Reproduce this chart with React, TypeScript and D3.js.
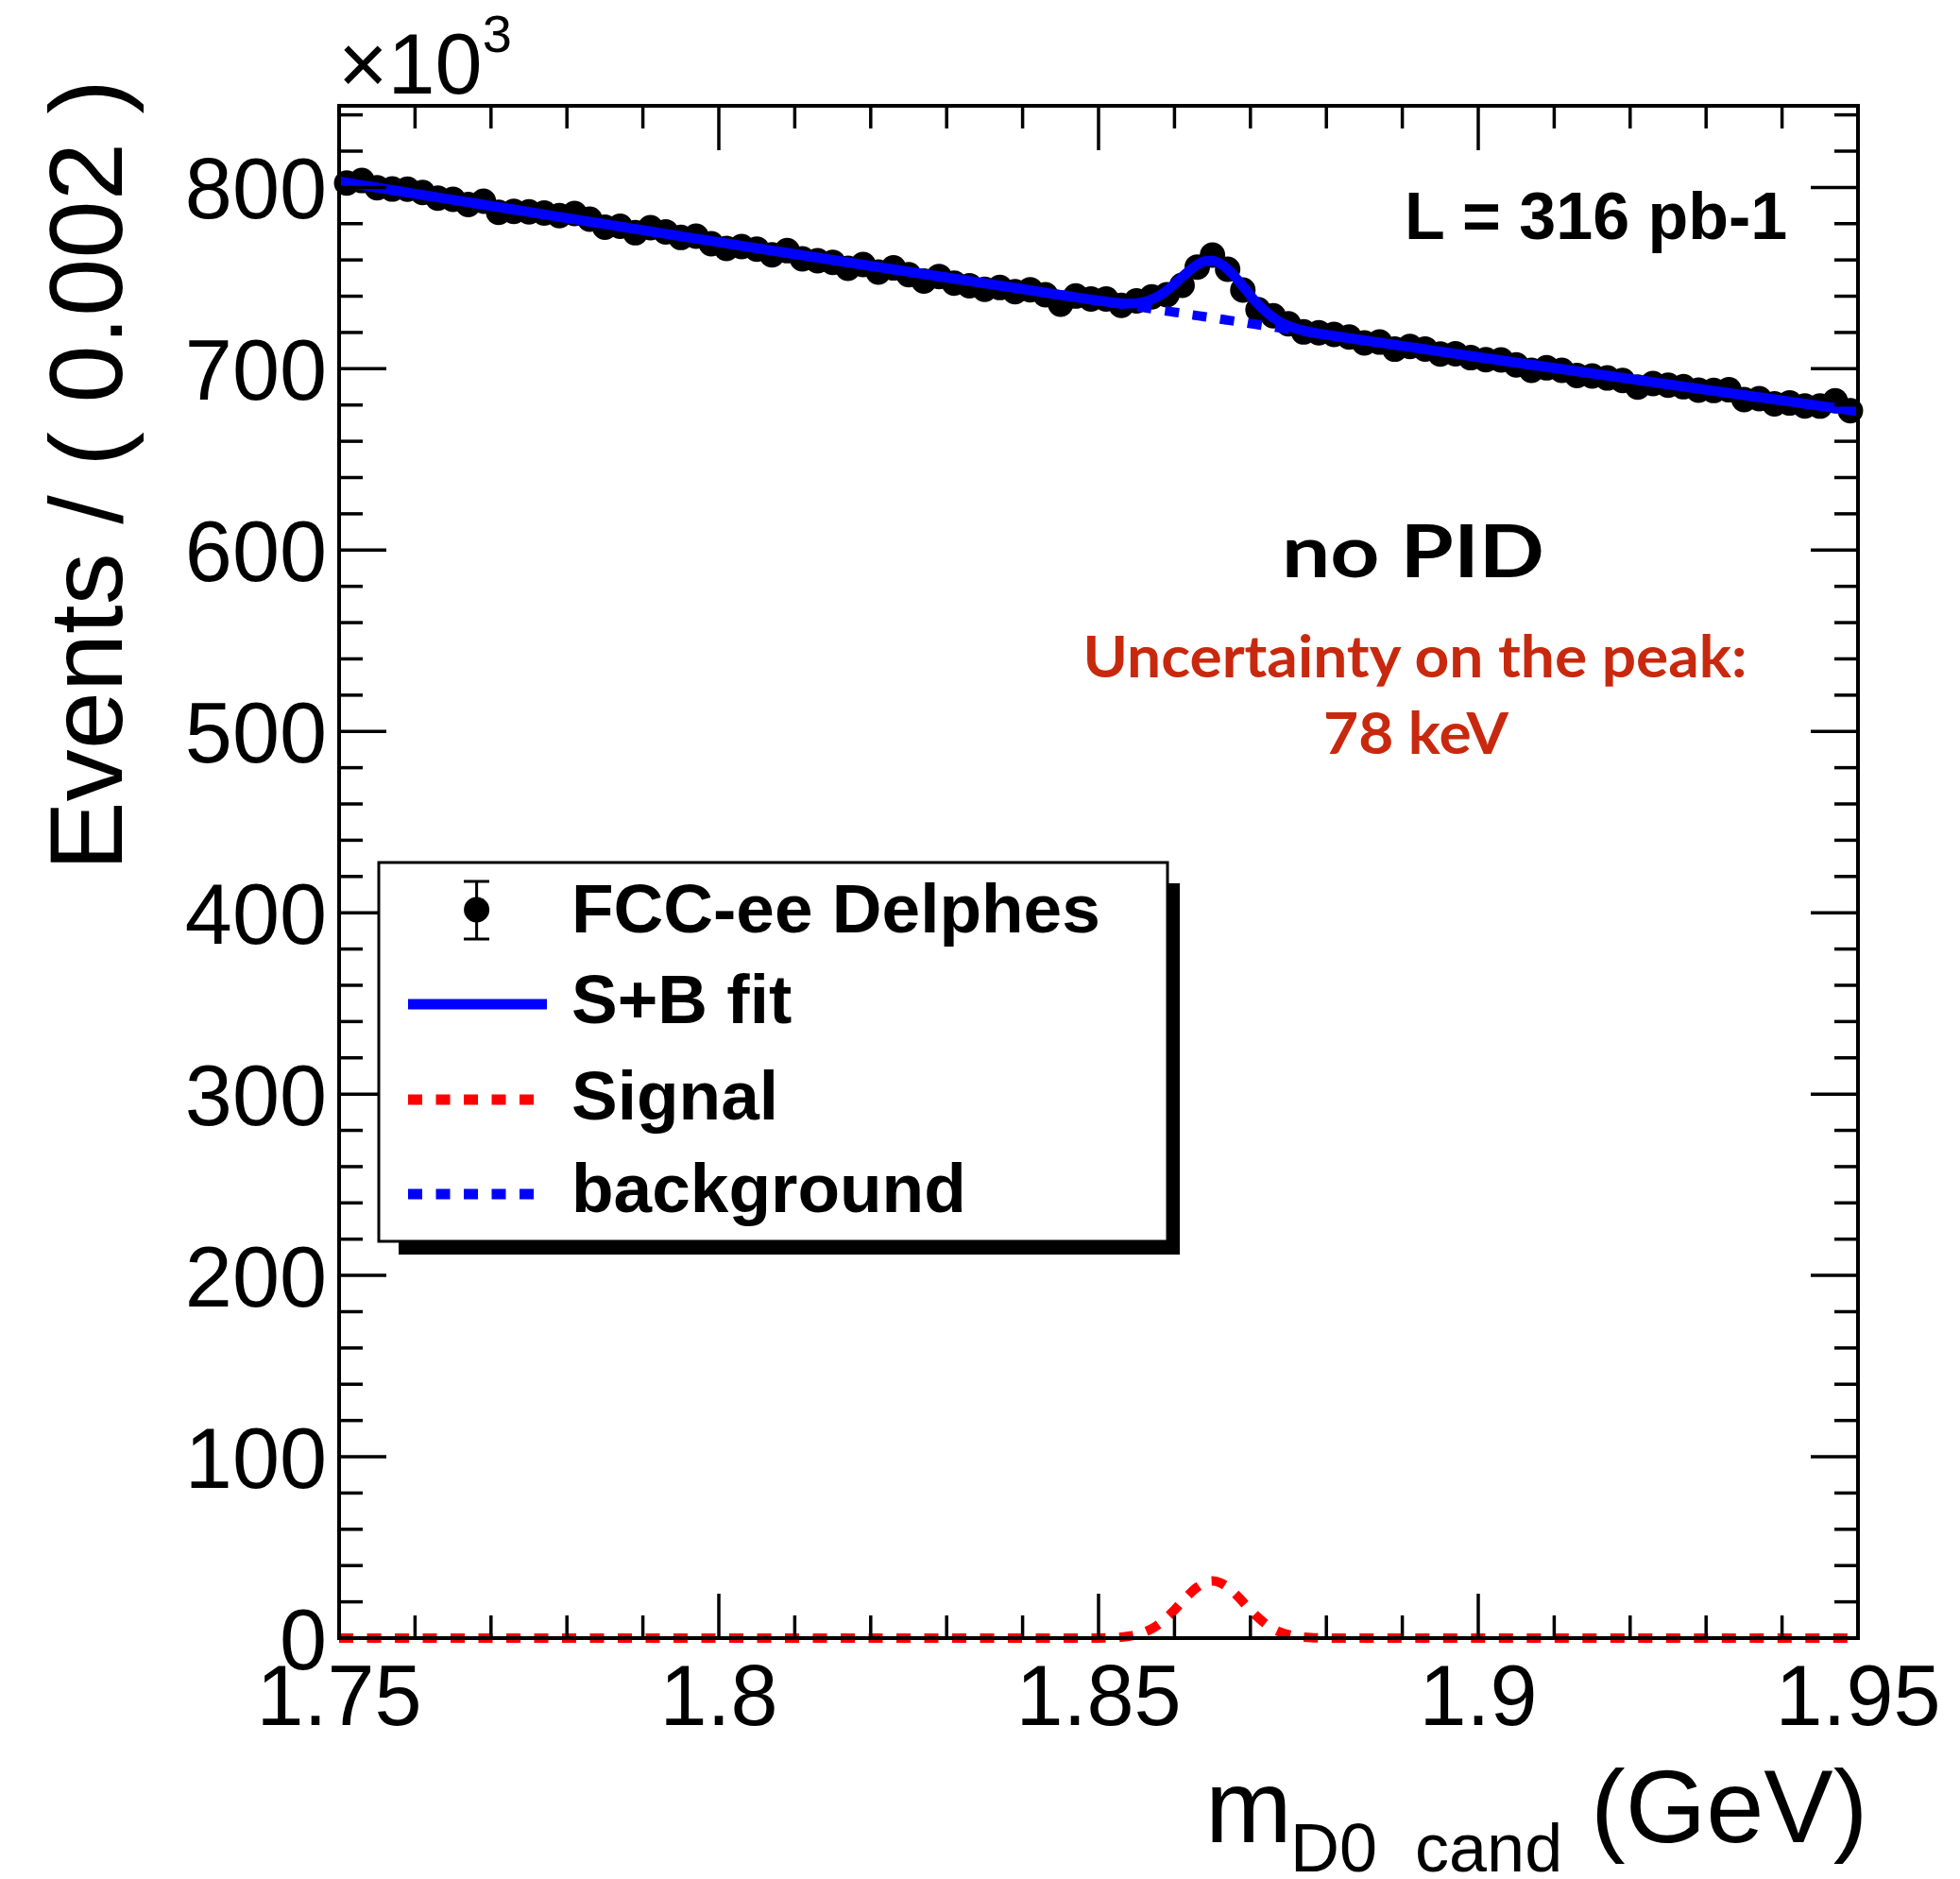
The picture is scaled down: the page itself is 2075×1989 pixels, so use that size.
import React from 'react';
import * as d3 from 'd3';

const W = 2075;
const H = 1989;

// axis ranges
const xDomain: [number, number] = [1.75, 1.95];
const yDomain: [number, number] = [0, 845]; // in units of 10^3 events
const binLow = 1.75;
const binWidth = 0.002;

// data: events per bin (x10^3), 100 bins of 0.002 GeV from 1.75
const counts = [
  802.4, 803.8, 799.8, 799.1, 799.0, 797.2, 794.1, 793.4, 790.6, 792.4,
  786.3, 786.8, 786.5, 785.9, 784.5, 785.6, 782.5, 778.1, 778.6, 775.0,
  777.8, 775.5, 772.4, 773.1, 768.9, 766.3, 767.4, 766.0, 762.8, 765.1,
  760.6, 759.6, 758.7, 755.4, 757.5, 753.3, 755.6, 751.9, 748.4, 750.9,
  747.2, 745.8, 743.8, 744.8, 742.5, 743.6, 740.8, 735.6, 740.1, 738.5,
  738.5, 735.0, 737.4, 739.6, 740.8, 746.0, 756.1, 762.7, 754.9, 743.4,
  732.6, 729.2, 724.8, 720.3, 719.9, 718.9, 717.5, 714.2, 714.7, 710.8,
  712.3, 710.9, 708.1, 708.3, 706.1, 705.0, 704.9, 702.1, 699.1, 700.5,
  699.1, 696.3, 696.0, 694.9, 693.5, 689.9, 691.8, 690.9, 690.1, 688.2,
  688.0, 688.4, 683.0, 683.5, 680.7, 681.1, 679.5, 679.4, 682.3, 676.9,
];

// fit curves sampled along x
const curveX = [
  1.75, 1.76, 1.77, 1.78, 1.79, 1.80, 1.81, 1.82, 1.83, 1.84, 1.845,
  1.850, 1.851, 1.852, 1.853, 1.854, 1.855, 1.856, 1.857, 1.858, 1.859,
  1.860, 1.861, 1.862, 1.863, 1.864, 1.865, 1.866, 1.867, 1.868, 1.869,
  1.870, 1.871, 1.872, 1.873, 1.874, 1.875, 1.876, 1.877, 1.878, 1.879,
  1.880, 1.885, 1.89, 1.90, 1.91, 1.92, 1.93, 1.94, 1.95,
];
const bgY = [
  803.3, 796.5, 789.8, 783.1, 776.4, 769.8, 763.2, 756.7, 750.3, 743.9, 740.7,
  737.5, 736.9, 736.2, 735.6, 735.0, 734.3, 733.7, 733.1, 732.4, 731.8,
  731.2, 730.6, 729.9, 729.3, 728.7, 728.1, 727.4, 726.8, 726.2, 725.6,
  724.9, 724.3, 723.7, 723.1, 722.4, 721.8, 721.2, 720.6, 720.0, 719.3,
  718.7, 715.6, 712.6, 706.4, 700.4, 694.4, 688.4, 682.5, 676.6,
];
const sigY = [
  0, 0, 0, 0, 0, 0, 0, 0, 0, 0, 0,
  0.05, 0.12, 0.26, 0.53, 1.02, 1.85, 3.17, 5.13, 7.85, 11.4,
  15.5, 20.0, 24.4, 28.1, 30.6, 31.5, 30.6, 28.1, 24.4, 20.0,
  15.5, 11.4, 7.85, 5.13, 3.17, 1.85, 1.02, 0.53, 0.26, 0.12,
  0.05, 0, 0, 0, 0, 0, 0, 0, 0,
];

// ticks
const xMajor = [1.75, 1.8, 1.85, 1.9, 1.95];
const xMajorLabels = ['1.75', '1.8', '1.85', '1.9', '1.95'];
const yMajor = [0, 100, 200, 300, 400, 500, 600, 700, 800];
const yMajorLabels = ['0', '100', '200', '300', '400', '500', '600', '700', '800'];

const legendLabels = ['FCC-ee Delphes', 'S+B fit', 'Signal', 'background'];

const L = 359, R = 1967, T = 112, B = 1734;
const FONT = "'Liberation Sans', Arial, Helvetica, sans-serif";
const FONT2 = "Lato, 'Open Sans', sans-serif";

export default function App() {
  const x = d3.scaleLinear().domain(xDomain).range([L, R]);
  const y = d3.scaleLinear().domain(yDomain).range([B, T]);

  const xMinor = d3.range(0, 21).map((i) => 1.75 + i * 0.01);
  const yMinor = d3.range(0, 43).map((i) => i * 20);

  const pts = counts.map((c, i) => ({ x: binLow + binWidth * (i + 0.5), y: c }));

  const line = d3
    .line<[number, number]>()
    .x((d) => x(d[0]))
    .y((d) => y(d[1]))
    .curve(d3.curveMonotoneX);

  const bgPath = line(curveX.map((v, i) => [v, bgY[i]] as [number, number])) || '';
  const sigPath = line(curveX.map((v, i) => [v, sigY[i]] as [number, number])) || '';
  const sbPath = line(curveX.map((v, i) => [v, bgY[i] + sigY[i]] as [number, number])) || '';

  const tickW = 3.5;
  const legRows = [963, 1063, 1164, 1264];
  const legBase = [987, 1083, 1185, 1283];

  return (
    <svg
      width={W}
      height={H}
      viewBox={`0 0 ${W} ${H}`}
      style={{ position: 'absolute', left: 0, top: 0, background: '#fff' }}
    >
      <rect x={0} y={0} width={W} height={H} fill="#fff" />

      {/* data points */}
      <g>
        {pts.map((p, i) => (
          <circle key={i} cx={x(p.x)} cy={y(p.y)} r={13.5} fill="#000" />
        ))}
      </g>

      {/* fit curves */}
      <path d={sbPath} fill="none" stroke="#0000ff" strokeWidth={10.5} strokeLinejoin="round" />
      <path d={sigPath} fill="none" stroke="#ff0000" strokeWidth={10} strokeDasharray="15 14.5" />
      <path d={bgPath} fill="none" stroke="#0000ff" strokeWidth={10} strokeDasharray="15 14.5" />

      {/* ticks */}
      <g stroke="#000" strokeWidth={tickW}>
        {xMinor.map((v, i) => {
          const major = xMajor.some((m) => Math.abs(m - v) < 1e-6);
          const len = major ? 47 : 24;
          return (
            <g key={'xt' + i}>
              <line x1={x(v)} x2={x(v)} y1={B} y2={B - len} />
              <line x1={x(v)} x2={x(v)} y1={T} y2={T + len} />
            </g>
          );
        })}
        {yMinor.map((v, i) => {
          const major = v % 100 === 0;
          const len = major ? 50 : 25;
          return (
            <g key={'yt' + i}>
              <line x1={L} x2={L + len} y1={y(v)} y2={y(v)} />
              <line x1={R} x2={R - len} y1={y(v)} y2={y(v)} />
            </g>
          );
        })}
      </g>

      {/* frame */}
      <rect x={L} y={T} width={R - L} height={B - T} fill="none" stroke="#000" strokeWidth={4} />

      {/* tick labels */}
      <g fontFamily={FONT} fontSize={90} fill="#000">
        {xMajor.map((v, i) => (
          <text key={'xl' + i} x={x(v)} y={1826} textAnchor="middle">
            {xMajorLabels[i]}
          </text>
        ))}
        {yMajor.map((v, i) => (
          <text key={'yl' + i} x={346} y={y(v) + 33} textAnchor="end">
            {yMajorLabels[i]}
          </text>
        ))}
        <text x={358} y={99}>
          ×10
          <tspan dy={-44} fontSize={56}>
            3
          </tspan>
        </text>
      </g>

      {/* axis titles */}
      <text
        transform="translate(129,84) rotate(-90)"
        textAnchor="end"
        fontFamily={FONT}
        fontSize={110}
      >
        Events / ( 0.002 )
      </text>
      <g fontFamily={FONT}>
        <text x={1276} y={1950} fontSize={110}>m</text>
        <text x={1366} y={1981} fontSize={72} style={{ whiteSpace: 'pre' }}>
          {'D0  cand'}
        </text>
        <text x={1684} y={1950} fontSize={110}>(GeV)</text>
      </g>

      {/* annotations */}
      <text x={1487} y={253} fontFamily={FONT} fontWeight="bold" fontSize={70}>
        L = 316 pb-1
      </text>
      <text
        x={1496}
        y={611}
        textAnchor="middle"
        fontFamily={FONT2}
        fontWeight="bold"
        fontSize={76}
        textLength={278}
        lengthAdjust="spacingAndGlyphs"
      >
        no PID
      </text>
      <text
        x={1498}
        y={717}
        textAnchor="middle"
        fontFamily={FONT2}
        fontWeight="bold"
        fontSize={61}
        fill="#c8290e"
        textLength={703}
        lengthAdjust="spacingAndGlyphs"
      >
        Uncertainty on the peak:
      </text>
      <text
        x={1499}
        y={798}
        textAnchor="middle"
        fontFamily={FONT2}
        fontWeight="bold"
        fontSize={61}
        fill="#c8290e"
        textLength={196}
        lengthAdjust="spacingAndGlyphs"
      >
        78 keV
      </text>

      {/* legend */}
      <rect x={422} y={935} width={1249 - 422} height={1328 - 935} fill="#000" />
      <rect x={401} y={913} width={1236 - 401} height={1314 - 913} fill="#fff" stroke="#000" strokeWidth={3} />
      <g>
        <line x1={504.6} x2={504.6} y1={933} y2={994} stroke="#000" strokeWidth={3} />
        <line x1={491} x2={518} y1={933} y2={933} stroke="#000" strokeWidth={3} />
        <line x1={491} x2={518} y1={994} y2={994} stroke="#000" strokeWidth={3} />
        <circle cx={504.6} cy={legRows[0]} r={13.5} fill="#000" />
        <line x1={432} x2={579} y1={legRows[1]} y2={legRows[1]} stroke="#0000ff" strokeWidth={11} />
        <line x1={432} x2={579} y1={legRows[2]} y2={legRows[2]} stroke="#ff0000" strokeWidth={11} strokeDasharray="15 14.5" />
        <line x1={432} x2={579} y1={legRows[3]} y2={legRows[3]} stroke="#0000ff" strokeWidth={11} strokeDasharray="15 14.5" />
      </g>
      <g fontFamily={FONT} fontWeight="bold" fontSize={73}>
        {legendLabels.map((t, i) => (
          <text key={'lg' + i} x={605} y={legBase[i]}>
            {t}
          </text>
        ))}
      </g>
    </svg>
  );
}
